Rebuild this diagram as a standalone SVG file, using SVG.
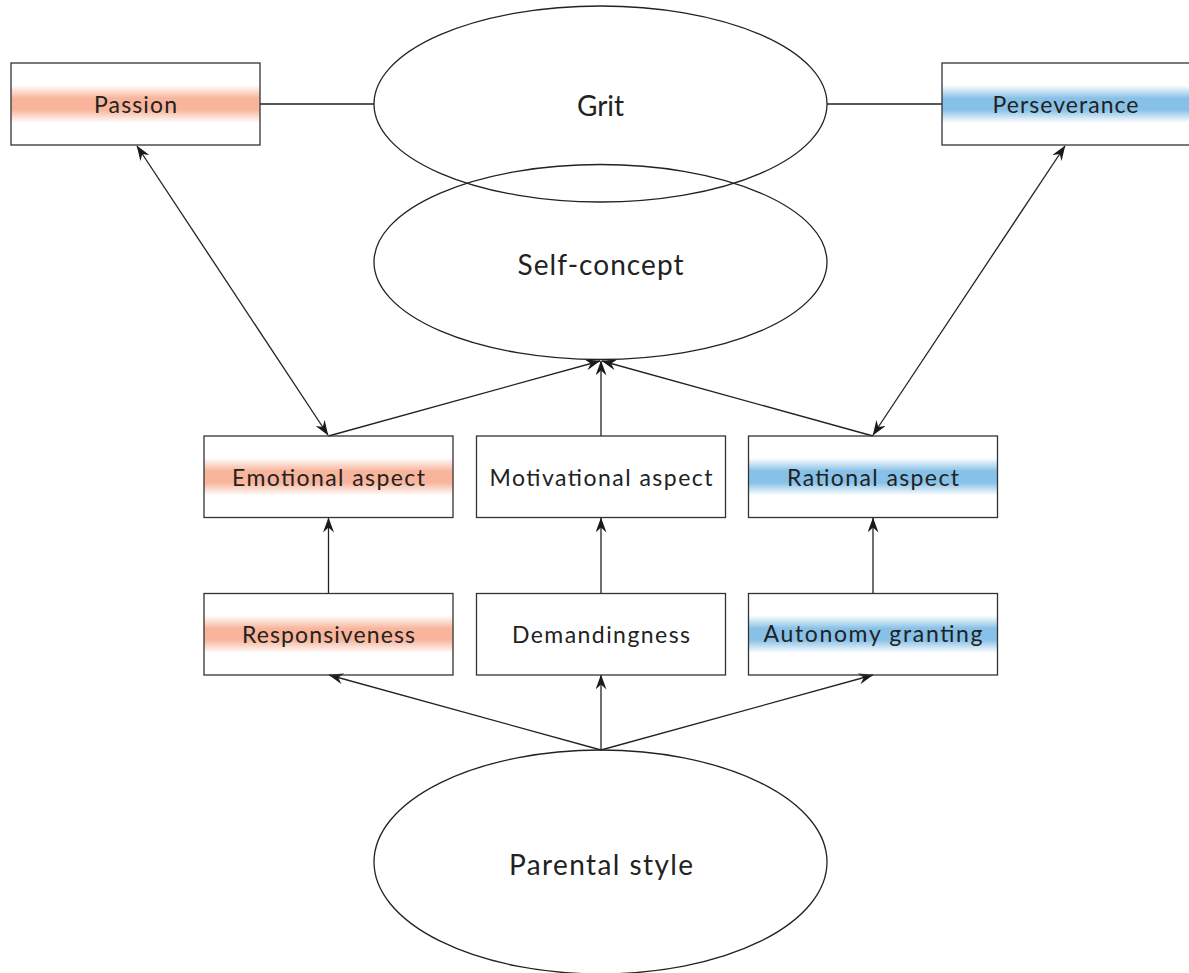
<svg xmlns="http://www.w3.org/2000/svg" width="1189" height="973" viewBox="0 0 1189 973">
  <style>
    .box { fill: none; stroke: #333; stroke-width: 1.3; }
    .ell { fill: none; stroke: #222; stroke-width: 1.3; }
    .lbl { font-family: "Lato", "Open Sans", sans-serif; font-size: 23px; fill: #222; text-anchor: middle; }
    .big { font-family: "Lato", "Open Sans", sans-serif; font-size: 28px; fill: #222; text-anchor: middle; }
    .con { fill: none; stroke: #222; stroke-width: 1.3; }
    .arr { marker-end: url(#ah); }
    .dbl { marker-start: url(#ah); marker-end: url(#ah); }
  </style>
  <defs>
    <linearGradient id="gOrange" x1="0" y1="0" x2="0" y2="1">
      <stop offset="0.27" stop-color="#f8b59c" stop-opacity="0"/>
      <stop offset="0.43" stop-color="#f8b59c"/>
      <stop offset="0.57" stop-color="#f8b59c"/>
      <stop offset="0.73" stop-color="#f8b59c" stop-opacity="0"/>
    </linearGradient>
    <linearGradient id="gBlue" x1="0" y1="0" x2="0" y2="1">
      <stop offset="0.27" stop-color="#88c1e7" stop-opacity="0"/>
      <stop offset="0.43" stop-color="#88c1e7"/>
      <stop offset="0.57" stop-color="#88c1e7"/>
      <stop offset="0.73" stop-color="#88c1e7" stop-opacity="0"/>
    </linearGradient>
    <marker id="ah" viewBox="0 0 15 11" refX="14.5" refY="5.5" markerWidth="15" markerHeight="11" markerUnits="userSpaceOnUse" orient="auto-start-reverse">
      <path d="M0,0 L15,5.5 L0,11 L5,5.5 Z" fill="#1a1a1a"/>
    </marker>
  </defs>

  <g id="connectors">
    <line class="con" x1="260" y1="104" x2="374" y2="104"/>
    <line class="con" x1="827" y1="104" x2="942" y2="104"/>
    <line class="con dbl" x1="137" y1="146" x2="328" y2="435"/>
    <line class="con dbl" x1="1065" y1="146" x2="873" y2="435"/>
    <line class="con arr" x1="328.5" y1="436" x2="600" y2="361"/>
    <line class="con arr" x1="601" y1="436" x2="601" y2="361"/>
    <line class="con arr" x1="873" y1="436" x2="602" y2="361"/>
    <line class="con arr" x1="328.5" y1="593" x2="328.5" y2="518"/>
    <line class="con arr" x1="601" y1="593" x2="601" y2="518"/>
    <line class="con arr" x1="873" y1="593" x2="873" y2="518"/>
    <line class="con arr" x1="601" y1="750" x2="329" y2="675"/>
    <line class="con arr" x1="601" y1="750" x2="601" y2="675"/>
    <line class="con arr" x1="601" y1="750" x2="873" y2="675"/>
  </g>

  <g id="grit">
    <ellipse class="ell" cx="600.5" cy="104" rx="226.5" ry="98"/>
    <text class="big" x="600.5" y="116">Grit</text>
  </g>
  <g id="self-concept">
    <ellipse class="ell" cx="600.5" cy="262" rx="226.5" ry="97.5"/>
    <text class="big" x="600.5" y="275" textLength="166" lengthAdjust="spacing">Self-concept</text>
  </g>
  <g id="parental-style">
    <ellipse class="ell" cx="600.5" cy="862" rx="226.5" ry="112"/>
    <text class="big" x="601" y="875" textLength="184" lengthAdjust="spacing">Parental style</text>
  </g>

  <g id="passion">
    <rect x="11" y="63" width="249" height="82" fill="url(#gOrange)"/>
    <rect class="box" x="11" y="63" width="249" height="82"/>
    <text class="lbl" x="135.5" y="112.5" textLength="83" lengthAdjust="spacing">Passion</text>
  </g>
  <g id="perseverance">
    <rect x="942" y="63" width="249" height="82" fill="url(#gBlue)"/>
    <rect class="box" x="942" y="63" width="249" height="82"/>
    <text class="lbl" x="1065.5" y="112.5" textLength="146" lengthAdjust="spacing">Perseverance</text>
  </g>

  <g id="emotional-aspect">
    <rect x="204" y="436" width="249" height="81.5" fill="url(#gOrange)"/>
    <rect class="box" x="204" y="436" width="249" height="81.5"/>
    <text class="lbl" x="328.5" y="485.5" textLength="193" lengthAdjust="spacing">Emotional aspect</text>
  </g>
  <g id="motivational-aspect">
    <rect class="box" x="476.5" y="436" width="249" height="81.5"/>
    <text class="lbl" x="601" y="485.5" textLength="223" lengthAdjust="spacing">Motivational aspect</text>
  </g>
  <g id="rational-aspect">
    <rect x="748.5" y="436" width="249" height="81.5" fill="url(#gBlue)"/>
    <rect class="box" x="748.5" y="436" width="249" height="81.5"/>
    <text class="lbl" x="873" y="485.5" textLength="172" lengthAdjust="spacing">Rational aspect</text>
  </g>

  <g id="responsiveness">
    <rect x="204" y="593.5" width="249" height="81.5" fill="url(#gOrange)"/>
    <rect class="box" x="204" y="593.5" width="249" height="81.5"/>
    <text class="lbl" x="328.5" y="642.5" textLength="173" lengthAdjust="spacing">Responsiveness</text>
  </g>
  <g id="demandingness">
    <rect class="box" x="476.5" y="593.5" width="249" height="81.5"/>
    <text class="lbl" x="601" y="642.5" textLength="178" lengthAdjust="spacing">Demandingness</text>
  </g>
  <g id="autonomy-granting">
    <rect x="748.5" y="593.5" width="249" height="81.5" fill="url(#gBlue)"/>
    <rect class="box" x="748.5" y="593.5" width="249" height="81.5"/>
    <text class="lbl" x="873" y="642" textLength="219" lengthAdjust="spacing">Autonomy granting</text>
  </g>
</svg>
